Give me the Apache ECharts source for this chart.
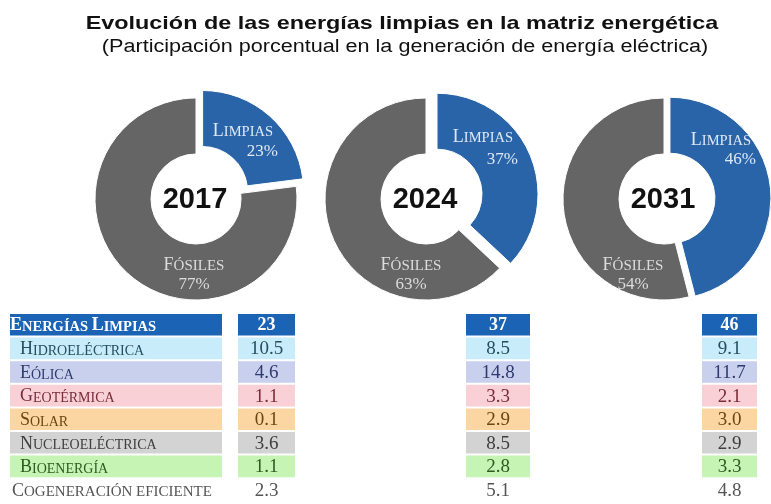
<!DOCTYPE html>
<html>
<head>
<meta charset="utf-8">
<script src="https://cdn.jsdelivr.net/npm/echarts@6/dist/echarts.min.js"></script>
<style>
  html, body { margin: 0; padding: 0; background: #fff; }
  #chart { width: 771px; height: 504px; }
</style>
</head>
<body>
<div id="chart"></div>
<script>
// ── datos ──
const years    = ['2017', '2024', '2031'];
const limpias  = [23, 37, 46];
const fosiles  = [77, 63, 54];
const rowNames = ['Energías Limpias', 'Hidroeléctrica', 'Eólica', 'Geotérmica', 'Solar',
                  'Nucleoeléctrica', 'Bioenergía', 'Cogeneración eficiente'];
const v2017 = [23, 10.5, 4.6, 1.1, 0.1, 3.6, 1.1, 2.3];
const v2024 = [37, 8.5, 14.8, 3.3, 2.9, 8.5, 2.8, 5.1];
const v2031 = [46, 9.1, 11.7, 2.1, 3.0, 2.9, 3.3, 4.8];
const tableCols = [v2017, v2024, v2031];

// ── estilos / layout ──
const BLUE = '#2964a8', GREY = '#656565';
const rowFill = ['#1a63b5', '#c8ecfa', '#c9d0ee', '#f8d0d6', '#fbd5a2', '#d3d3d3', '#c6f4b4', '#ffffff'];
const rowInk  = ['#ffffff', '#244f5e', '#2e3a6e', '#7a2c38', '#6b4612', '#3e3e3e', '#2e5a20', '#555555'];
const pieCenters = [[196, 199], [426, 199], [664, 199]];
const pieOffsets = [10, 12, 6];
// posiciones de etiquetas (desde el centro del anillo)
const limpiasLbl = [[82, -68, -47], [92, -62, -39], [92, -59, -39]]; // [dx derecha, dy nombre, dy %]
const fosilesLbl = [[-2, 75], [-15, 75], [-31, 75]];
const tableTop = 313, rowH = 23.6;
const colBoxes = [[10, 212], [238, 57], [466, 64], [702, 55]]; // [left, width]
const SERIF = '"Liberation Serif", "DejaVu Serif", serif';
const SANS = '"Liberation Sans", Arial, sans-serif';
const LBL_LIGHT = '#dfe8f4', LBL_GREY = '#dcdcdc';

// versalitas: mayúsculas grandes, minúsculas → mayúsculas pequeñas
function smallCaps(str) {
  let out = '', run = '', kind = null;
  const flush = () => { if (run) out += '{' + kind + '|' + run + '}'; run = ''; };
  for (const ch of str) {
    const k = ch !== ch.toLowerCase() ? 'b' : 's';
    if (k !== kind) { flush(); kind = k; }
    run += ch.toUpperCase();
  }
  flush();
  return out;
}
function capsRich(big, small, color, weight) {
  return {
    b: { fontFamily: SERIF, fontSize: big, fontWeight: weight || 'normal', color, fill: color, verticalAlign: 'bottom' },
    s: { fontFamily: SERIF, fontSize: small, fontWeight: weight || 'normal', color, fill: color, verticalAlign: 'bottom' }
  };
}

const chart = echarts.init(document.getElementById('chart'));
const series = [];

years.forEach((y, i) => {
  const [cx, cy] = pieCenters[i];
  series.push({
    type: 'pie',
    center: [cx, cy],
    radius: [45, 101],
    startAngle: 90,
    clockwise: true,
    selectedMode: 'single',
    selectedOffset: pieOffsets[i],
    silent: true,
    animation: false,
    avoidLabelOverlap: false,
    itemStyle: { borderColor: '#fff', borderWidth: 1 },
    labelLine: { show: false },
    label: { show: true, position: 'inside', fontFamily: SERIF, lineHeight: 21 },
    labelLayout: p => p.dataIndex === 1 ? {
      x: cx + fosilesLbl[i][0], y: cy + fosilesLbl[i][1],
      align: 'center', verticalAlign: 'middle'
    } : {},
    data: [
      { name: 'Limpias', value: limpias[i], selected: true,
        itemStyle: { color: BLUE }, label: { show: false } },
      { name: 'Fósiles', value: fosiles[i],
        itemStyle: { color: GREY },
        label: {
          align: 'center',
          formatter: smallCaps('Fósiles') + '\n{p|' + fosiles[i] + '%}',
          rich: Object.assign(capsRich(18, 15, LBL_GREY),
                              { p: { fontFamily: SERIF, fontSize: 17, color: LBL_GREY } })
        }
      }
    ]
  });
});

// ── tabla: una rejilla por columna, celdas con serie custom ──
const grids = [], xAxes = [], yAxes = [];
colBoxes.forEach(([left, width], k) => {
  grids.push({ left, width, top: tableTop, height: rowH * rowNames.length });
  xAxes.push({ type: 'category', gridIndex: k, data: ['c'], show: false });
  yAxes.push({ type: 'category', gridIndex: k, data: rowNames, inverse: true, show: false });
});

function cellRenderer(k) {
  return (params, api) => {
    const r = params.dataIndex;
    const c = api.coord([0, r]);
    const band = api.size([0, 1])[1];
    const cs = params.coordSys;
    const h = band - 2;
    const last = r === rowNames.length - 1;
    const children = [];
    if (!last) {
      children.push({
        type: 'rect',
        shape: { x: cs.x, y: c[1] - h / 2, width: cs.width, height: h },
        style: { fill: rowFill[r] }
      });
    }
    if (k === 0) {
      const rich = r === 0 ? capsRich(18, 14.5, rowInk[r], 'bold')
                 : last ? capsRich(18, 15, rowInk[r])
                 : capsRich(18, 14, rowInk[r]);
      children.push({
        type: 'text',
        x: cs.x + (r === 0 ? 0 : last ? 2 : 10),
        y: c[1] + 1,
        style: { text: smallCaps(rowNames[r]), align: 'left', verticalAlign: 'middle', rich }
      });
    } else {
      const v = tableCols[k - 1][r];
      children.push({
        type: 'text',
        x: cs.x + cs.width / 2,
        y: c[1] + 1,
        style: {
          text: r === 0 ? String(v) : v.toFixed(1),
          align: 'center', verticalAlign: 'middle',
          font: (r === 0 ? 'bold 18px ' : '19px ') + SERIF,
          fill: rowInk[r]
        }
      });
    }
    return { type: 'group', children };
  };
}

colBoxes.forEach((_, k) => {
  series.push({
    type: 'custom',
    coordinateSystem: 'cartesian2d',
    xAxisIndex: k, yAxisIndex: k,
    silent: true,
    animation: false,
    renderItem: cellRenderer(k),
    data: rowNames.map((n, r) => [0, r])
  });
});

// etiquetas "Limpias" de cada anillo
const limpiasText = [];
years.forEach((y, i) => {
  const [cx, cy] = pieCenters[i];
  const [dx, dyName, dyPct] = limpiasLbl[i];
  limpiasText.push(
    { type: 'text', x: cx + dx - 5, y: cy + dyName, z: 10, silent: true,
      style: { text: smallCaps('Limpias'), align: 'right', verticalAlign: 'middle',
               rich: capsRich(18, 14.5, LBL_LIGHT) } },
    { type: 'text', x: cx + dx, y: cy + dyPct, z: 10, silent: true,
      style: { text: limpias[i] + '%', align: 'right', verticalAlign: 'middle',
               font: '17px ' + SERIF, fill: LBL_LIGHT } }
  );
});

chart.setOption({
  backgroundColor: '#ffffff',
  animation: false,
  grid: grids,
  xAxis: xAxes,
  yAxis: yAxes,
  series,
  graphic: [
    { type: 'text', x: 402, y: 24, scaleX: 1.23, silent: true,
      style: { text: 'Evolución de las energías limpias en la matriz energética',
               font: 'bold 19px ' + SANS, fill: '#111', align: 'center', verticalAlign: 'middle' } },
    { type: 'text', x: 405, y: 47, scaleX: 1.2, silent: true,
      style: { text: '(Participación porcentual en la generación de energía eléctrica)',
               font: '18px ' + SANS, fill: '#111', align: 'center', verticalAlign: 'middle' } },
    ...years.map((y, i) => ({
      type: 'text', x: pieCenters[i][0] - 1, y: pieCenters[i][1] + 1, silent: true, z: 10,
      style: { text: y, font: 'bold 29px ' + SANS, fill: '#111', align: 'center', verticalAlign: 'middle' }
    })),
    ...limpiasText
  ]
});
</script>
</body>
</html>
